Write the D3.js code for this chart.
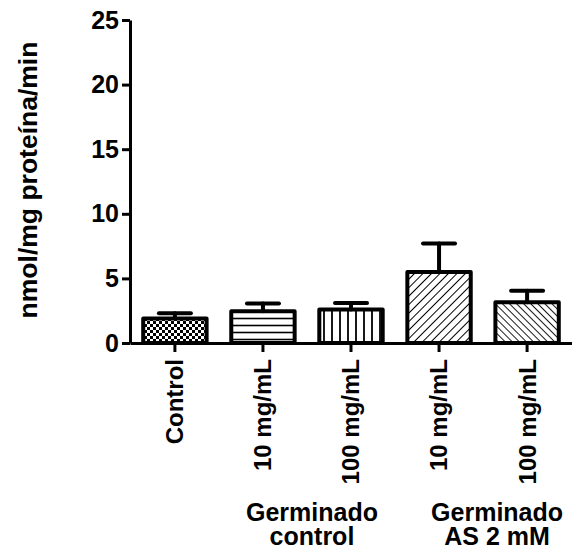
<!DOCTYPE html>
<html>
<head>
<meta charset="utf-8">
<script src="https://cdn.jsdelivr.net/npm/d3@7"></script>
<style>
  body { margin: 0; background: #fff; }
  text { font-family: "Liberation Sans", Arial, sans-serif; font-weight: bold; }
</style>
</head>
<body>
<div id="chart"></div>
<script>
// Data
var categories = ['Control', '10 mg/mL', '100 mg/mL', '10 mg/mL ', '100 mg/mL ']
var means = [1.9, 2.45, 2.6, 5.5, 3.15]
var upperErr = [0.4, 0.6, 0.5, 2.2, 0.9]
var patterns = ['checker', 'hlines', 'vlines', 'fdiag', 'bdiag']
var yTicks = [0, 5, 10, 15, 20, 25]
var groups = [
  { lines: ['Germinado', 'control'], from: 1, to: 2, shift: 5 },
  { lines: ['Germinado', 'AS 2 mM'], from: 3, to: 4, shift: 14 }
]

var width = 572, height = 550

var svg = d3.select('#chart')
  .append('svg')
  .attr('width', width)
  .attr('height', height)

// Fill patterns for the bars
var defs = svg.append('defs')

var p = defs.append('pattern').attr('id', 'checker')
  .attr('patternUnits', 'userSpaceOnUse').attr('width', 6).attr('height', 6)
p.append('rect').attr('width', 6).attr('height', 6).attr('fill', '#fff')
p.append('rect').attr('width', 3).attr('height', 3).attr('fill', '#000')
p.append('rect').attr('x', 3).attr('y', 3).attr('width', 3).attr('height', 3).attr('fill', '#000')

p = defs.append('pattern').attr('id', 'hlines')
  .attr('patternUnits', 'userSpaceOnUse').attr('width', 7).attr('height', 7)
p.append('rect').attr('width', 7).attr('height', 7).attr('fill', '#fff')
p.append('line').attr('x1', 0).attr('x2', 7).attr('y1', 3.5).attr('y2', 3.5)
  .attr('stroke', '#000').attr('stroke-width', 1.6)

p = defs.append('pattern').attr('id', 'vlines')
  .attr('patternUnits', 'userSpaceOnUse').attr('width', 8).attr('height', 8)
p.append('rect').attr('width', 8).attr('height', 8).attr('fill', '#fff')
p.append('line').attr('y1', 0).attr('y2', 8).attr('x1', 4).attr('x2', 4)
  .attr('stroke', '#000').attr('stroke-width', 1.8)

p = defs.append('pattern').attr('id', 'fdiag')
  .attr('patternUnits', 'userSpaceOnUse').attr('width', 6).attr('height', 6)
  .attr('patternTransform', 'rotate(45)')
p.append('rect').attr('width', 6).attr('height', 6).attr('fill', '#fff')
p.append('line').attr('x1', 0).attr('x2', 0).attr('y1', 0).attr('y2', 6)
  .attr('stroke', '#000').attr('stroke-width', 2)

p = defs.append('pattern').attr('id', 'bdiag')
  .attr('patternUnits', 'userSpaceOnUse').attr('width', 5).attr('height', 5)
  .attr('patternTransform', 'rotate(-45)')
p.append('rect').attr('width', 5).attr('height', 5).attr('fill', '#fff')
p.append('line').attr('x1', 0).attr('x2', 0).attr('y1', 0).attr('y2', 5)
  .attr('stroke', '#000').attr('stroke-width', 1.8)

// Scales
var x = d3.scaleBand().domain(categories).range([130, 572])
  .paddingInner(0.28).paddingOuter(0.15)
var y = d3.scaleLinear().domain([0, 25]).range([343, 20])

// Bars
svg.selectAll('.bar')
  .data(categories)
  .enter()
  .append('rect')
  .attr('class', 'bar')
  .attr('x', function (d) { return x(d) })
  .attr('y', function (d, i) { return y(means[i]) })
  .attr('width', x.bandwidth())
  .attr('height', function (d, i) { return y(0) - y(means[i]) })
  .attr('fill', function (d, i) { return 'url(#' + patterns[i] + ')' })
  .attr('stroke', '#000')
  .attr('stroke-width', 4)
  .attr('stroke-linejoin', 'round')

// Upper error bars
var err = svg.selectAll('.err')
  .data(categories)
  .enter()
  .append('g')
  .attr('class', 'err')
  .attr('stroke', '#000')
  .attr('stroke-width', 4)
  .attr('stroke-linecap', 'round')

err.append('line')
  .attr('x1', function (d) { return x(d) + x.bandwidth() / 2 })
  .attr('x2', function (d) { return x(d) + x.bandwidth() / 2 })
  .attr('y1', function (d, i) { return y(means[i]) })
  .attr('y2', function (d, i) { return y(means[i] + upperErr[i]) })

err.append('line')
  .attr('x1', function (d) { return x(d) + x.bandwidth() / 2 - 16 })
  .attr('x2', function (d) { return x(d) + x.bandwidth() / 2 + 16 })
  .attr('y1', function (d, i) { return y(means[i] + upperErr[i]) })
  .attr('y2', function (d, i) { return y(means[i] + upperErr[i]) })

// Y axis
var yAxis = svg.append('g')
  .attr('transform', 'translate(130,0)')
  .call(d3.axisLeft(y).tickValues(yTicks).tickSize(8).tickSizeOuter(0).tickPadding(3))
yAxis.select('.domain').attr('stroke-width', 3)
yAxis.selectAll('.tick line').attr('stroke-width', 3)
yAxis.selectAll('.tick text')
  .attr('font-size', 25)
  .attr('font-family', '"Liberation Sans", Arial, sans-serif')
  .attr('font-weight', 'bold')
  .attr('fill', '#000')

// X axis
var xAxis = svg.append('g')
  .attr('transform', 'translate(0,343)')
  .call(d3.axisBottom(x).tickSize(9).tickSizeOuter(0).tickFormat(function (d) { return d.trim() }))
xAxis.select('.domain').attr('stroke-width', 3)
xAxis.selectAll('.tick line').attr('stroke-width', 3)
xAxis.selectAll('.tick text')
  .attr('font-size', 24)
  .attr('font-family', '"Liberation Sans", Arial, sans-serif')
  .attr('font-weight', 'bold')
  .attr('fill', '#000')
  .attr('transform', 'rotate(-90)')
  .attr('text-anchor', 'end')
  .attr('x', -16)
  .attr('y', 0)
  .attr('dy', '0.35em')

// Group labels under the rotated ticks
groups.forEach(function (g) {
  var cx = (x(categories[g.from]) + x(categories[g.to]) + x.bandwidth()) / 2 + g.shift
  var t = svg.append('text')
    .attr('x', cx)
    .attr('y', 521)
    .attr('text-anchor', 'middle')
    .attr('font-size', 25)
  g.lines.forEach(function (line, i) {
    t.append('tspan').attr('x', cx).attr('dy', i === 0 ? 0 : 24).text(line)
  })
})

// Y axis title
svg.append('text')
  .attr('transform', 'translate(37,180) rotate(-90)')
  .attr('text-anchor', 'middle')
  .attr('font-size', 26.5)
  .text('nmol/mg proteína/min')
</script>
</body>
</html>
